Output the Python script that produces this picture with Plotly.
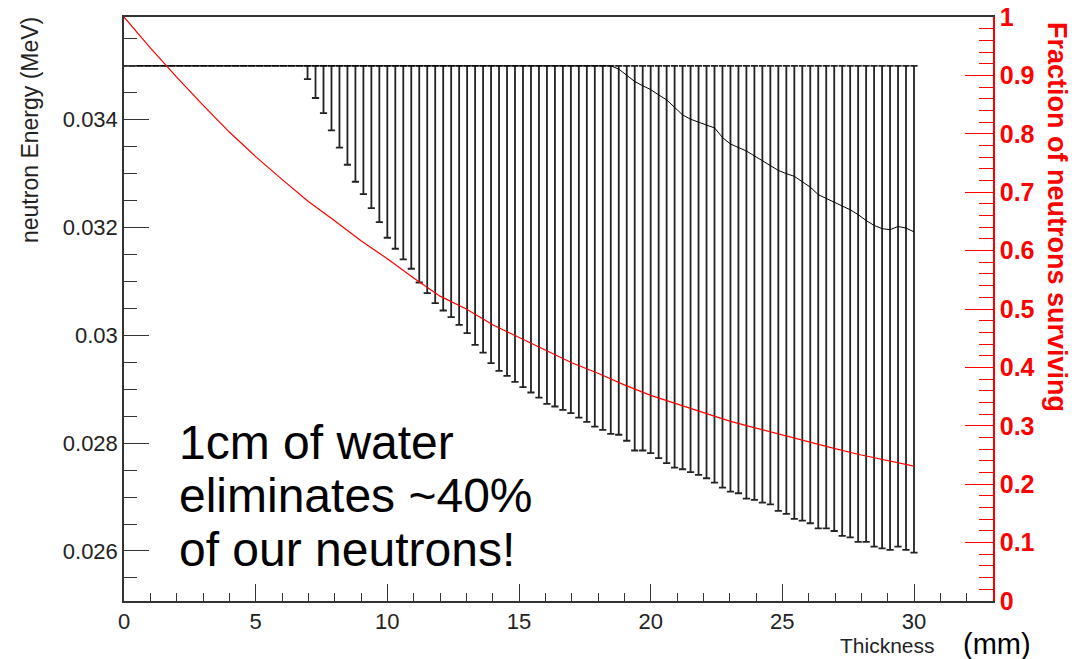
import plotly.graph_objects as go

# ---------------- data ----------------
thickness_mm = [
    0.000, 0.303, 0.606, 0.909, 1.212, 1.515, 1.818, 2.121, 2.424, 2.727,
    3.030, 3.333, 3.636, 3.939, 4.242, 4.545, 4.848, 5.152, 5.455, 5.758,
    6.061, 6.364, 6.667, 6.970, 7.273, 7.576, 7.879, 8.182, 8.485, 8.788,
    9.091, 9.394, 9.697, 10.000, 10.303, 10.606, 10.909, 11.212, 11.515, 11.818,
    12.121, 12.424, 12.727, 13.030, 13.333, 13.636, 13.939, 14.242, 14.545, 14.848,
    15.152, 15.455, 15.758, 16.061, 16.364, 16.667, 16.970, 17.273, 17.576, 17.879,
    18.182, 18.485, 18.788, 19.091, 19.394, 19.697, 20.000, 20.303, 20.606, 20.909,
    21.212, 21.515, 21.818, 22.121, 22.424, 22.727, 23.030, 23.333, 23.636, 23.939,
    24.242, 24.545, 24.848, 25.152, 25.455, 25.758, 26.061, 26.364, 26.667, 26.970,
    27.273, 27.576, 27.879, 28.182, 28.485, 28.788, 29.091, 29.394, 29.697, 30.000,
]

source_energy_mev = 0.035  # upper end of every error bar

mean_energy_mev = [
    0.035, 0.035, 0.035, 0.035, 0.035, 0.035, 0.035, 0.035, 0.035, 0.035,
    0.035, 0.035, 0.035, 0.035, 0.035, 0.035, 0.035, 0.035, 0.035, 0.035,
    0.035, 0.035, 0.035, 0.035, 0.035, 0.035, 0.035, 0.035, 0.035, 0.035,
    0.035, 0.035, 0.035, 0.035, 0.035, 0.035, 0.035, 0.035, 0.035, 0.035,
    0.035, 0.035, 0.035, 0.035, 0.035, 0.035, 0.035, 0.035, 0.035, 0.035,
    0.035, 0.035, 0.035, 0.035, 0.035, 0.035, 0.035, 0.035, 0.035, 0.035,
    0.035, 0.035, 0.03494, 0.03483, 0.03471, 0.03463, 0.03456, 0.03446, 0.03437, 0.03423,
    0.03409, 0.03401, 0.03395, 0.03390, 0.03385, 0.03367, 0.03355, 0.03348, 0.03342, 0.03333,
    0.03324, 0.03314, 0.03306, 0.03300, 0.03295, 0.03285, 0.03275, 0.03261, 0.03254, 0.03248,
    0.03241, 0.03233, 0.03224, 0.03213, 0.03204, 0.03198, 0.03196, 0.03202, 0.03199, 0.03192,
]

lower_energy_mev = [
    0.035, 0.035, 0.035, 0.035, 0.035, 0.035, 0.035, 0.035, 0.035, 0.035,
    0.035, 0.035, 0.035, 0.035, 0.035, 0.035, 0.035, 0.035, 0.035, 0.035,
    0.035, 0.035, 0.035, 0.034755, 0.034403, 0.034124, 0.033802, 0.033481, 0.033165, 0.032850,
    0.032621, 0.032361, 0.032102, 0.031811, 0.031607, 0.031409, 0.031236, 0.030981, 0.030784, 0.030598,
    0.030461, 0.030339, 0.030195, 0.030040, 0.029823, 0.029681, 0.029484, 0.029341, 0.029249, 0.029137,
    0.029039, 0.028940, 0.028846, 0.028729, 0.028680, 0.028618, 0.028556, 0.028475, 0.028395, 0.028308,
    0.028246, 0.028172, 0.028156, 0.028045, 0.027864, 0.027864, 0.027814, 0.027721, 0.027628, 0.027547,
    0.027516, 0.027461, 0.027411, 0.027349, 0.027268, 0.027175, 0.027100, 0.027071, 0.026971, 0.026947,
    0.026897, 0.026863, 0.026743, 0.026687, 0.026594, 0.026563, 0.026514, 0.026421, 0.026421, 0.026371,
    0.026279, 0.026254, 0.026167, 0.026167, 0.026080, 0.026050, 0.026019, 0.026080, 0.026019, 0.025970,
]

fraction_thickness_mm = [0, 1, 2, 3, 4, 5, 6, 7, 8, 9, 10, 11, 12, 13, 14, 15,
                         16, 17, 18, 19, 20, 21, 22, 23, 24, 25, 26, 27, 28, 29, 30]
fraction_surviving = [1.000, 0.947, 0.897, 0.849, 0.803, 0.761, 0.722, 0.684, 0.651, 0.617,
                      0.586, 0.553, 0.522, 0.500, 0.473, 0.451, 0.429, 0.408, 0.390, 0.370,
                      0.352, 0.337, 0.322, 0.308, 0.296, 0.284, 0.272, 0.261, 0.250, 0.240,
                      0.231]

text_lines = ["1cm of water", "eliminates ~40%", "of our neutrons!"]

# ---------------- figure ----------------
W, H = 1078, 659
ML, MR, MT, MB = 124, 85, 17, 58
PW, PH = W - ML - MR, H - MT - MB

def px_x(p):
    return (p - ML) / PW

def px_y(p):
    return (H - MB - p) / PH

err_plus = [source_energy_mev - m for m in mean_energy_mev]
err_minus = [m - l for m, l in zip(mean_energy_mev, lower_energy_mev)]

FONT = "Liberation Sans, Arial, sans-serif"
INK = "#222222"

fig = go.Figure()
fig.add_trace(go.Scatter(
    x=thickness_mm, y=mean_energy_mev, mode="lines",
    line=dict(color="black", width=1),
    error_y=dict(type="data", symmetric=False, array=err_plus, arrayminus=err_minus,
                 color=INK, thickness=1.8, width=3.6),
    yaxis="y", showlegend=False, hoverinfo="skip",
))
fig.add_trace(go.Scatter(
    x=fraction_thickness_mm, y=fraction_surviving, mode="lines",
    line=dict(color="#ff0000", width=1.2),
    yaxis="y2", showlegend=False, hoverinfo="skip",
))

fig.update_layout(
    width=W, height=H,
    margin=dict(l=ML, r=MR, t=MT, b=MB, pad=0, autoexpand=False),
    paper_bgcolor="white", plot_bgcolor="white",
    font=dict(family=FONT, color=INK),
    xaxis=dict(
        range=[0, 33], showgrid=False, zeroline=False, automargin=False,
        showline=True, linecolor="#333333", linewidth=1.5, mirror=True,
        ticks="inside", ticklen=17, tickwidth=1.4, tickcolor="#333333",
        tick0=0, dtick=5, tickfont=dict(size=22, color=INK),
        minor=dict(ticks="inside", ticklen=8, tickwidth=1.4, tickcolor="#333333", dtick=1),
    ),
    yaxis=dict(
        range=[0.025072, 0.035906], showgrid=False, zeroline=False, automargin=False,
        showline=True, linecolor="#333333", linewidth=1.5,
        ticks="inside", ticklen=25, tickwidth=1.4, tickcolor="#333333",
        tick0=0.026, dtick=0.002, tickfont=dict(size=22, color=INK),
        minor=dict(ticks="inside", ticklen=13, tickwidth=1.4, tickcolor="#333333",
                   tick0=0.026, dtick=0.0005),
    ),
    yaxis2=dict(
        range=[0, 1], overlaying="y", side="right", showgrid=False, zeroline=False,
        automargin=False,
        showline=True, linecolor="#ff0000", linewidth=1.5,
        ticks="inside", ticklen=28, tickwidth=1.4, tickcolor="#ff0000",
        tick0=0, dtick=0.1,
        tickfont=dict(size=25, color="#ff0000", weight="bold"),
        minor=dict(ticks="inside", ticklen=14, tickwidth=1.4, tickcolor="#ff0000",
                   tick0=0, dtick=0.02),
    ),
)

annotations = [
    dict(text="neutron Energy (MeV)", xref="paper", yref="paper",
         x=px_x(30), y=px_y(130), textangle=-90, showarrow=False,
         font=dict(size=23, color=INK, family=FONT), xanchor="center", yanchor="middle"),
    dict(text="Fraction of neutrons surviving", xref="paper", yref="paper",
         x=px_x(1057), y=px_y(217), textangle=90, showarrow=False,
         font=dict(size=27, color="#ff0000", family=FONT, weight="bold"),
         xanchor="center", yanchor="middle"),
    dict(text="Thickness", xref="paper", yref="paper",
         x=px_x(937), y=px_y(645), showarrow=False,
         font=dict(size=21, color=INK, family=FONT), xanchor="right", yanchor="middle"),
    dict(text="(mm)", xref="paper", yref="paper",
         x=px_x(997), y=px_y(644), showarrow=False,
         font=dict(size=29, color="black", family=FONT), xanchor="center", yanchor="middle"),
]
for line, yc in zip(text_lines, [443, 495, 549]):
    annotations.append(dict(text=line, xref="paper", yref="paper",
                            x=px_x(177), y=px_y(yc), showarrow=False,
                            font=dict(size=48, color="black", family=FONT),
                            xanchor="left", yanchor="middle"))
fig.update_layout(annotations=annotations)

fig.write_html("out.html")
